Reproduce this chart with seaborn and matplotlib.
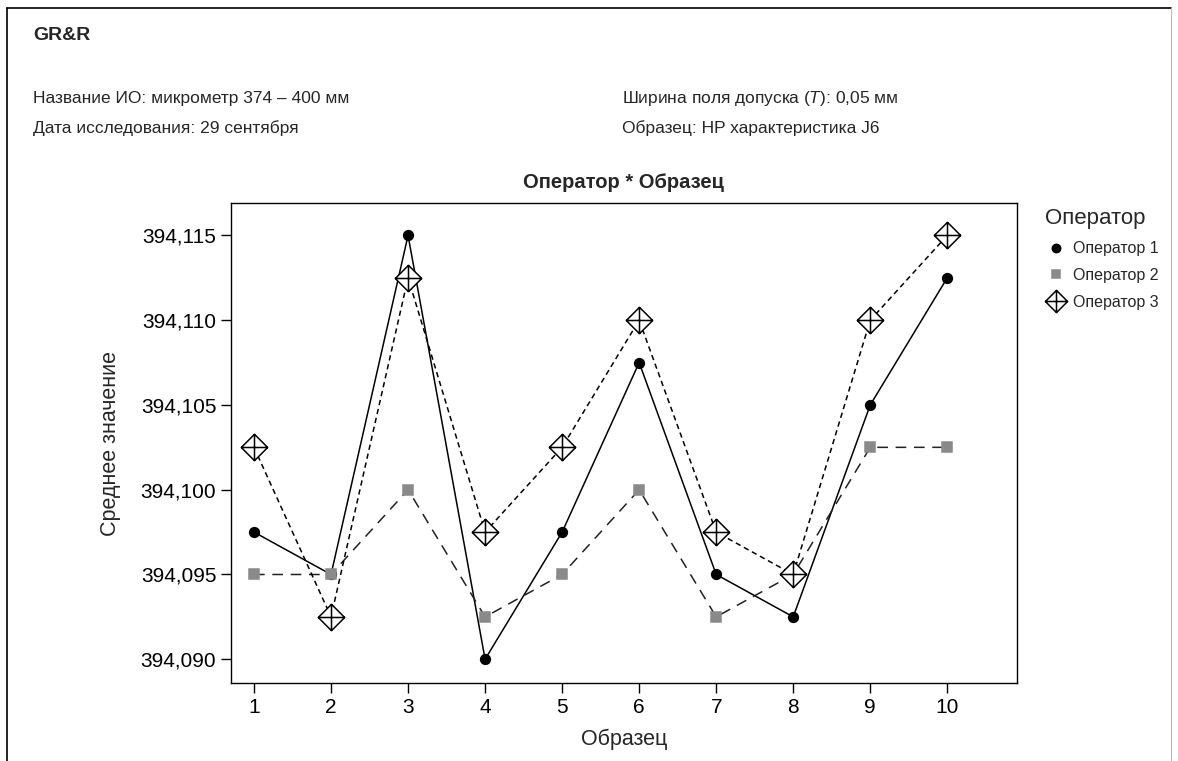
import numpy as np
import pandas as pd
import seaborn as sns
import matplotlib.pyplot as plt
from matplotlib.path import Path
from matplotlib.lines import Line2D
from matplotlib.ticker import FuncFormatter

# -----------------------------
# Data
# -----------------------------
SAMPLES = [1, 2, 3, 4, 5, 6, 7, 8, 9, 10]
OPERATORS = ["Оператор 1", "Оператор 2", "Оператор 3"]
OP1 = [394.0975, 394.095, 394.115, 394.090, 394.0975, 394.1075, 394.095, 394.0925, 394.105, 394.1125]
OP2 = [394.095, 394.095, 394.100, 394.0925, 394.095, 394.100, 394.0925, 394.095, 394.1025, 394.1025]
OP3 = [394.1025, 394.0925, 394.1125, 394.0975, 394.1025, 394.110, 394.0975, 394.095, 394.110, 394.115]
Y_TICKS = [394.090, 394.095, 394.100, 394.105, 394.110, 394.115]

df = pd.DataFrame({
    "Образец": SAMPLES * 3,
    "value": OP1 + OP2 + OP3,
    "Оператор": [o for o in OPERATORS for _ in SAMPLES],
})

# -----------------------------
# Style
# -----------------------------
sns.set_style("white")
plt.rcParams["font.family"] = ["Liberation Sans", "DejaVu Sans"]
plt.rcParams["mathtext.fontset"] = "custom"
plt.rcParams["mathtext.it"] = "Liberation Sans:italic"
plt.rcParams["mathtext.rm"] = "Liberation Sans"

# diamond with a cross inside
verts = [(0, 1), (1, 0), (0, -1), (-1, 0), (0, 1),
         (0, 1), (0, -1), (-1, 0), (1, 0)]
codes = [Path.MOVETO, Path.LINETO, Path.LINETO, Path.LINETO, Path.CLOSEPOLY,
         Path.MOVETO, Path.LINETO, Path.MOVETO, Path.LINETO]
DIAMOND_CROSS = Path(verts, codes)

STYLE = {
    "Оператор 1": dict(marker="o", color="black", linestyle="-", mfc="black", mec="black", ms=7),
    "Оператор 2": dict(marker="s", color="#222222", linestyle=(0, (7, 5)), mfc="#8a8a8a", mec="#8a8a8a", ms=6.5),
    "Оператор 3": dict(marker=DIAMOND_CROSS, color="black", linestyle=(0, (3.5, 2.5)), mfc="white", mec="black", ms=19),
}

fig = plt.figure(figsize=(11.78, 7.61), dpi=100)
ax = fig.add_axes([0.196, 0.1025, 0.667, 0.6305])

for op in OPERATORS:
    s = STYLE[op]
    sub = df[df["Оператор"] == op]
    sns.lineplot(
        data=sub, x="Образец", y="value", ax=ax,
        color=s["color"], linewidth=1.1, linestyle=s["linestyle"],
        marker=s["marker"], markersize=s["ms"],
        markerfacecolor=s["mfc"], markeredgecolor=s["mec"], markeredgewidth=1.1,
        legend=False,
    )

ax.set_xlim(0.7, 10.9)
ax.set_ylim(394.0886, 394.1169)
ax.set_xticks(SAMPLES)
ax.set_yticks(Y_TICKS)
ax.yaxis.set_major_formatter(FuncFormatter(lambda v, p: f"{v:.3f}".replace(".", ",")))
ax.tick_params(axis="both", labelsize=15, length=7, width=1, direction="out",
               bottom=True, left=True, colors="black")
for sp in ax.spines.values():
    sp.set_color("black")
    sp.set_linewidth(1)
ax.set_xlabel("Образец", fontsize=15.5, labelpad=9)
ax.set_ylabel("Среднее значение", fontsize=15.5, labelpad=14)
ax.set_title("Оператор * Образец", fontsize=14.5, fontweight="bold", pad=11)

handles = [
    Line2D([], [], linestyle="none", marker=STYLE[op]["marker"],
           markersize=(STYLE[op]["ms"] - 1 if op != "Оператор 3" else 16),
           markerfacecolor=STYLE[op]["mfc"], markeredgecolor=STYLE[op]["mec"], markeredgewidth=1.1)
    for op in OPERATORS
]
leg = ax.legend(handles, OPERATORS, title="Оператор", frameon=False,
                loc="upper left", bbox_to_anchor=(1.022, 1.013),
                fontsize=11.5, title_fontsize=16, handletextpad=0.35,
                handlelength=1.4, labelspacing=0.75, borderaxespad=0.3)
leg._legend_box.align = "left"

# header text
fig.text(0.028, 0.953, "GR&R", fontsize=14, fontweight="bold", va="center")
fig.text(0.028, 0.871, "Название ИО: микрометр 374 – 400 мм", fontsize=12.5, va="center")
fig.text(0.028, 0.832, "Дата исследования: 29 сентября", fontsize=12.5, va="center")
fig.text(0.528, 0.871, "Ширина поля допуска ($T$): 0,05 мм", fontsize=12.5, va="center")
fig.text(0.528, 0.832, "Образец: HP характеристика J6", fontsize=12.5, va="center")

# page frame (top, left, right)
frame_kw = dict(color="black", linewidth=1.2, transform=fig.transFigure)
fig.add_artist(Line2D([0.006, 0.994], [0.989, 0.989], **frame_kw))
fig.add_artist(Line2D([0.006, 0.006], [0.0, 0.989], **frame_kw))
fig.add_artist(Line2D([0.994, 0.994], [0.0, 0.989], color="#bbbbbb", linewidth=0.8, transform=fig.transFigure))

fig.savefig("out.png", dpi=100)
